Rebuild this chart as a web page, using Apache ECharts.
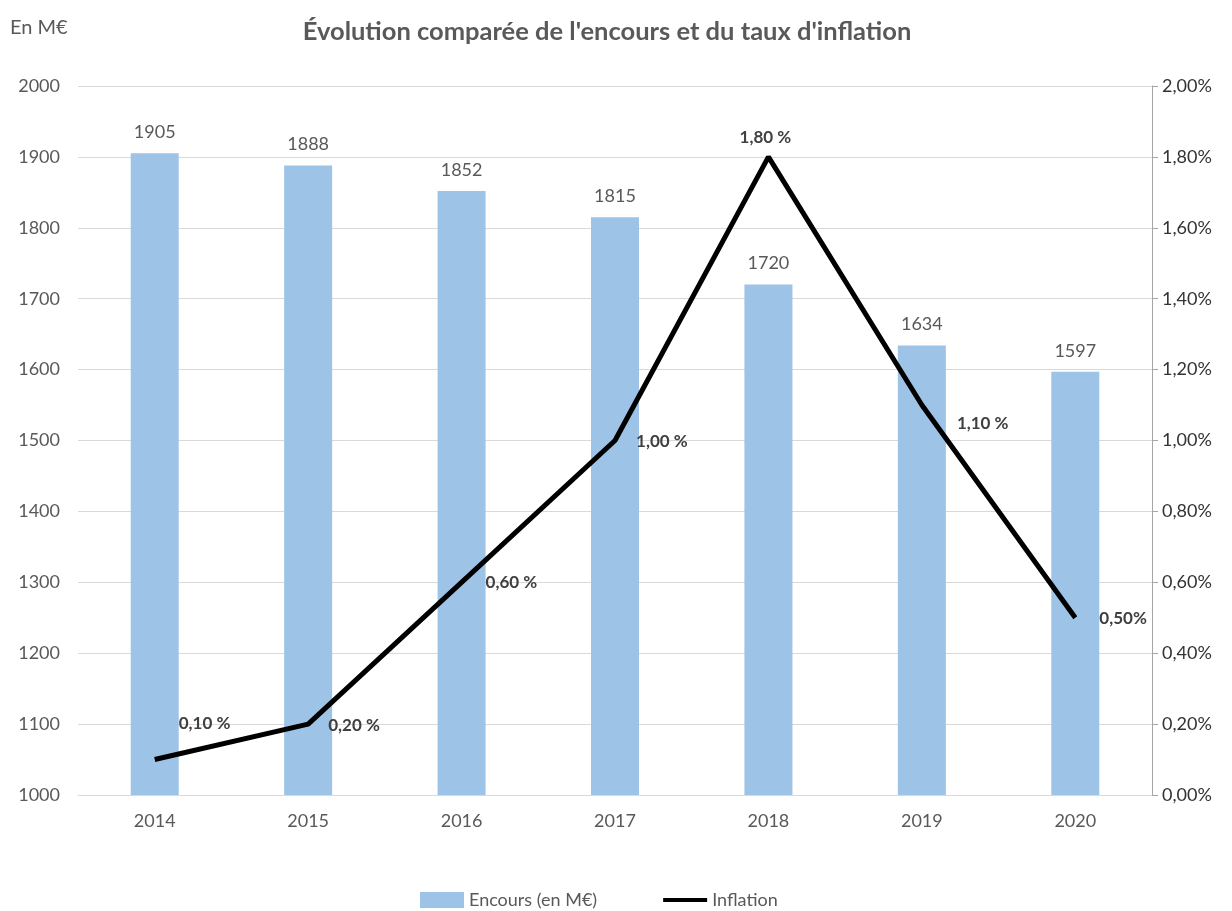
<!DOCTYPE html>
<html>
<head>
<meta charset="utf-8">
<script src="https://cdn.jsdelivr.net/npm/echarts@6/dist/echarts.min.js"></script>
<style>
  html, body { margin: 0; padding: 0; background: #fff; }
  #chart { width: 1232px; height: 911px; }
</style>
</head>
<body>
<div id="chart"></div>
<script>
// données
var years = ['2014', '2015', '2016', '2017', '2018', '2019', '2020'];
var encours = [1905, 1888, 1852, 1815, 1720, 1634, 1597];
var inflation = [0.1, 0.2, 0.6, 1.0, 1.8, 1.1, 0.5];
var inflationLabels = ['0,10 %', '0,20 %', '0,60 %', '1,00 %', '1,80 %', '1,10 %', '0,50%'];
// position des étiquettes de la courbe
var labelPos = ['right', 'right', 'right', 'right', 'top', 'right', 'right'];
var labelOffset = [[0, -36], [-4, 1], [0, 0], [-3, 1], [-3, 13], [11, 18], [0, 1]];

var grey = '#595959';
var font = 'Lato, "Liberation Sans", sans-serif';

var chart = echarts.init(document.getElementById('chart'));

var lineData = inflation.map(function (v, i) {
  return {
    value: v,
    label: {
      position: labelPos[i],
      offset: labelOffset[i],
      formatter: inflationLabels[i]
    }
  };
});

var option = {
  animation: false,
  textStyle: { fontFamily: font },
  title: {
    text: "Évolution comparée de l'encours et du taux d'inflation",
    left: 602,
    top: 14,
    textAlign: 'center',
    textStyle: { fontSize: 25.5, fontWeight: 'bold', color: grey, fontFamily: font }
  },
  graphic: [{
    type: 'text',
    left: 10,
    top: 18,
    style: { text: 'En M€', fontSize: 20, fill: grey, fontFamily: font }
  }],
  legend: {
    bottom: -3,
    left: 415,
    itemGap: 66,
    itemWidth: 44,
    itemHeight: 16,
    textStyle: { fontSize: 18, color: grey, fontFamily: font },
    data: [
      { name: 'Encours (en M€)', icon: 'rect' },
      { name: 'Inflation', icon: 'path://M0,0 M0,6 L44,6 L44,10 L0,10 Z M44,16' }
    ]
  },
  grid: {
    left: 78,
    right: 80,
    top: 86,
    bottom: 116,
    containLabel: false
  },
  xAxis: {
    type: 'category',
    data: years,
    axisLine: { lineStyle: { color: '#d9d9d9' } },
    axisTick: { show: false },
    axisLabel: { fontSize: 18, color: grey, margin: 17 }
  },
  yAxis: [{
    type: 'value',
    min: 1000,
    max: 2000,
    interval: 100,
    axisLine: { show: false },
    axisTick: { show: false },
    axisLabel: {
      fontSize: 18, color: grey, margin: 18,
      formatter: function (v) { return String(v); }
    },
    splitLine: { lineStyle: { color: '#d9d9d9' } }
  }, {
    type: 'value',
    min: 0,
    max: 2,
    interval: 0.2,
    position: 'right',
    axisLine: { show: true, lineStyle: { color: '#a6a6a6' } },
    axisTick: { show: true, length: 6, lineStyle: { color: '#a6a6a6' } },
    axisLabel: {
      fontSize: 18,
      color: '#333',
      margin: 10,
      formatter: function (v) { return v.toFixed(2).replace('.', ',') + '%'; }
    },
    splitLine: { show: false }
  }],
  series: [{
    name: 'Encours (en M€)',
    type: 'bar',
    data: encours,
    barWidth: 48,
    itemStyle: { color: '#9dc3e6' },
    label: {
      show: true,
      position: 'top',
      distance: 12,
      fontSize: 18,
      color: grey
    }
  }, {
    name: 'Inflation',
    type: 'line',
    yAxisIndex: 1,
    data: lineData,
    symbol: 'circle',
    symbolSize: 0.1,
    showSymbol: true,
    lineStyle: { color: '#000', width: 5 },
    itemStyle: { color: '#000' },
    label: {
      show: true,
      fontSize: 17,
      fontWeight: 'bold',
      color: '#404040',
      distance: 24
    }
  }]
};

chart.setOption(option);
</script>
</body>
</html>
